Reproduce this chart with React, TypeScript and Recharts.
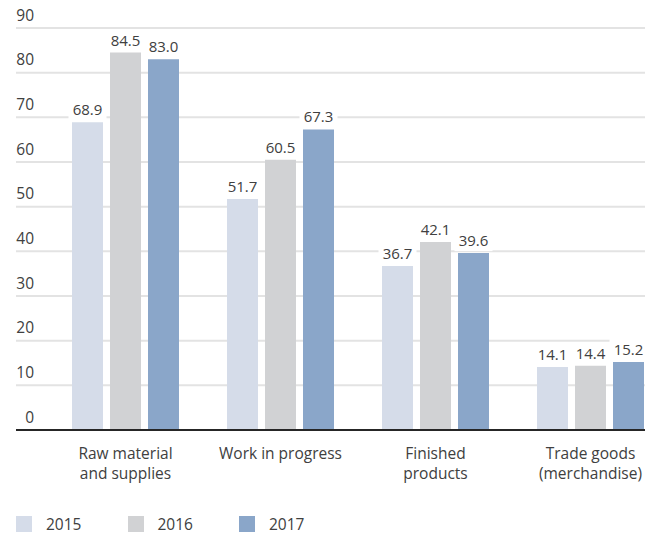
import React from "react";
import { BarChart, Bar, XAxis, YAxis, CartesianGrid, LabelList, Legend } from "recharts";

const categories = ["Raw material\nand supplies", "Work in progress", "Finished\nproducts", "Trade goods\n(merchandise)"];
const values2015 = [68.9, 51.7, 36.7, 14.1];
const values2016 = [84.5, 60.5, 42.1, 14.4];
const values2017 = [83.0, 67.3, 39.6, 15.2];
const yTicks = [0, 10, 20, 30, 40, 50, 60, 70, 80, 90];
const seriesNames = ["2015", "2016", "2017"];
const colors = ["#d5dce9", "#d1d2d4", "#8aa6c9"];

const data = categories.map((c, i) => ({
  name: c,
  y2015: values2015[i],
  y2016: values2016[i],
  y2017: values2017[i],
}));

const FONT = "'Open Sans', sans-serif";
const TEXT = "#404040";

const YTick = (props: any) => {
  const { y, payload } = props;
  return (
    <text x={34} y={y - 7.5} textAnchor="end" fontSize={15.5} fontFamily={FONT} fill={TEXT}>
      {payload.value}
    </text>
  );
};

const XTick = (props: any) => {
  const { x, y, payload } = props;
  const lines = String(payload.value).split("\n");
  return (
    <text x={x} y={y} textAnchor="middle" fontSize={15.5} fontFamily={FONT} fill={TEXT}>
      {lines.map((l, i) => (
        <tspan key={i} x={x} y={y + 21 + i * 20}>
          {l}
        </tspan>
      ))}
    </text>
  );
};

const BarLabel = (props: any) => {
  const { x, y, width, value } = props;
  const cx = x + width / 2;
  return (
    <g>
      <rect x={cx - 19} y={y - 23} width={38} height={21} fill="#ffffff" />
      <text x={cx} y={y - 7} textAnchor="middle" fontSize={15} fontFamily={FONT} fill={TEXT}>
        {Number(value).toFixed(1)}
      </text>
    </g>
  );
};

const LegendContent = () => (
  <div style={{ position: "relative", width: 400, height: 20 }}>
    {seriesNames.map((s, i) => (
      <div key={s} style={{ position: "absolute", left: i * 111.5, top: 0, display: "flex", alignItems: "center" }}>
        <div style={{ width: 16, height: 16, background: colors[i] }} />
        <span style={{ marginLeft: 14, fontSize: 15.5, fontFamily: FONT, color: TEXT, lineHeight: "16px" }}>{s}</span>
      </div>
    ))}
  </div>
);

export default function App() {
  return (
    <div style={{ position: "absolute", left: 0, top: 0, width: 645, height: 534, overflow: "hidden", background: "#fff" }}>
      <BarChart
        width={680}
        height={534}
        data={data}
        margin={{ top: 28, right: 12, left: 0, bottom: 0 }}
        barCategoryGap={24}
        barGap={7}
      >
        <CartesianGrid horizontal vertical={false} stroke="#e3e3e3" strokeWidth={2} />
        <YAxis
          width={16}
          domain={[0, 90]}
          ticks={yTicks}
          axisLine={false}
          tickLine={false}
          tick={<YTick />}
          interval={0}
        />
        <XAxis
          dataKey="name"
          height={84}
          padding={{ left: 32, right: 0 }}
          axisLine={{ stroke: "#262626", strokeWidth: 2 }}
          tickLine={false}
          tick={<XTick />}
          interval={0}
        />
        <Legend
          verticalAlign="bottom"
          align="left"
          content={<LegendContent />}
          wrapperStyle={{ left: 16, bottom: -2, width: 400, height: 20 }}
        />
        <Bar dataKey="y2015" name="2015" fill={colors[0]} isAnimationActive={false}>
          <LabelList dataKey="y2015" content={<BarLabel />} />
        </Bar>
        <Bar dataKey="y2016" name="2016" fill={colors[1]} isAnimationActive={false}>
          <LabelList dataKey="y2016" content={<BarLabel />} />
        </Bar>
        <Bar dataKey="y2017" name="2017" fill={colors[2]} isAnimationActive={false}>
          <LabelList dataKey="y2017" content={<BarLabel />} />
        </Bar>
      </BarChart>
    </div>
  );
}
